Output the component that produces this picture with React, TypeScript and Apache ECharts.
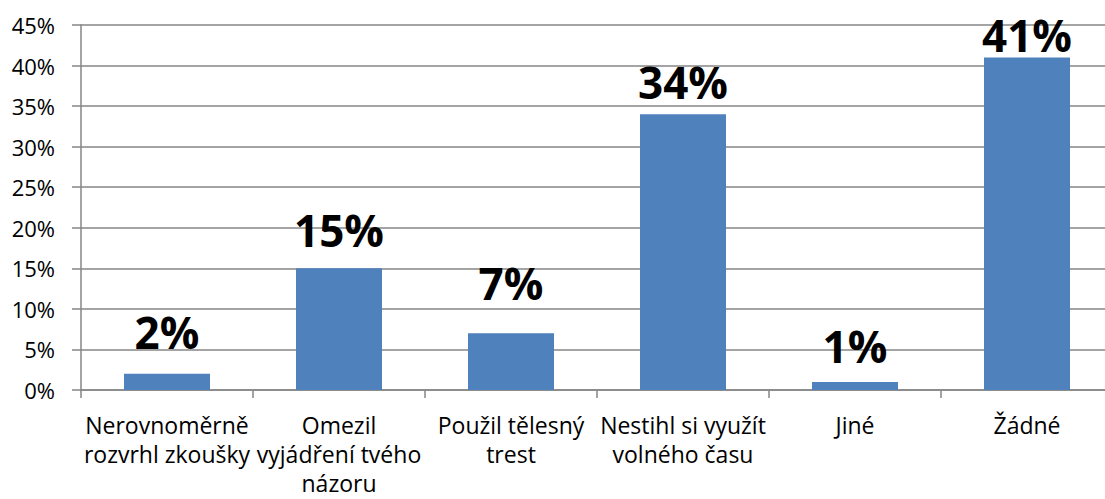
import React, { useEffect, useRef } from "react";
import * as echarts from "echarts";

const categories = [
  "Nerovnoměrně\nrozvrhl zkoušky",
  "Omezil\nvyjádření tvého\nnázoru",
  "Použil tělesný\ntrest",
  "Nestihl si využít\nvolného času",
  "Jiné",
  "Žádné",
];
const values = [2, 15, 7, 34, 1, 41];
const labelLift = [20, 16, 28, 10, 14, 0];

export default function App() {
  const ref = useRef<HTMLDivElement>(null);
  useEffect(() => {
    if (!ref.current) return;
    const chart = echarts.init(ref.current, null, { renderer: "svg" });
    chart.setOption({
      animation: false,
      grid: { left: 81, top: 25, bottom: 109, right: 0, containLabel: false },
      xAxis: {
        type: "category",
        data: categories,
        boundaryGap: true,
        axisLine: { show: true, lineStyle: { color: "#868686", width: 1.5 } },
        axisTick: { show: true, alignWithLabel: false, interval: 0, length: 8, lineStyle: { color: "#868686", width: 1.5 } },
        axisLabel: {
          interval: 0,
          margin: 20,
          fontFamily: "Open Sans",
          fontSize: 23,
          lineHeight: 29,
          color: "#000",
        },
      },
      yAxis: {
        type: "value",
        min: 0,
        max: 45,
        interval: 5,
        axisLine: { show: true, lineStyle: { color: "#868686", width: 1.5 } },
        axisTick: { show: true, length: 9, lineStyle: { color: "#868686", width: 1.5 } },
        splitLine: { show: true, lineStyle: { color: "#868686", width: 1.5 } },
        axisLabel: {
          formatter: "{value}%",
          margin: 26,
          fontFamily: "Open Sans",
          fontSize: 22,
          color: "#000",
        },
      },
      series: [
        {
          type: "bar",
          barWidth: "50%",
          itemStyle: { color: "#4F81BD" },
          data: values.map((v, i) => ({
            value: v,
            label: { distance: labelLift[i] },
          })),
          label: {
            show: true,
            position: "top",
            formatter: "{c}%",
            fontFamily: "Open Sans",
            fontWeight: "bold",
            fontSize: 44,
            lineHeight: 44,
            color: "#000",
          },
        },
      ],
    });
    return () => chart.dispose();
  }, []);
  return (
    <div
      style={{ position: "fixed", left: 0, top: 0, width: 1105, height: 499, overflow: "hidden", background: "#fff" }}
    >
      <div ref={ref} style={{ width: 1113, height: 499 }} />
    </div>
  );
}
